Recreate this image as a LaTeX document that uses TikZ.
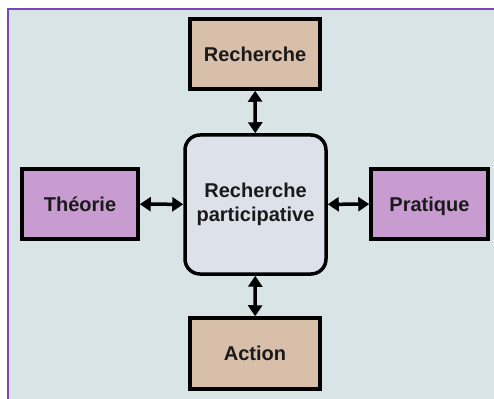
\documentclass[tikz,border=0pt]{standalone}
\usepackage{fontspec}
\setmainfont{Liberation Sans}
\usetikzlibrary{arrows.meta}
\definecolor{bgc}{HTML}{D8E4E6}
\definecolor{framec}{HTML}{7A45B5}
\definecolor{tanc}{HTML}{D8BFA9}
\definecolor{purc}{HTML}{C89CD0}
\definecolor{cenc}{HTML}{DCE1EA}
\definecolor{txtc}{HTML}{1A1A1A}
\tikzset{
  box/.style={draw=black, line width=3.5pt, inner sep=0pt, font=\fontsize{20}{24}\selectfont\bfseries, text=txtc, align=center},
  single/.style={text height=14.4pt, text depth=0pt},
  link/.style={line width=3.5pt, {Triangle[length=11pt,width=14pt]}-{Triangle[length=11pt,width=14pt]}}
}
\begin{document}
\begin{tikzpicture}[x=1pt,y=-1pt]
\useasboundingbox (0,0) rectangle (494,398);
\fill[white] (0,0) rectangle (494,398);
\fill[bgc] (8,9) rectangle (500,404);
\draw[framec, line width=2.2pt] (8,404) -- (8,9) -- (500,9);
\node[box, single, fill=tanc, minimum width=130pt, minimum height=70pt] (rech) at (255,54) {Recherche};
\node[box, fill=cenc, rounded corners=15pt, minimum width=141pt, minimum height=139pt] (cent) at (255.5,204.5) {Recherche\\participative};
\node[box, single, fill=purc, minimum width=116pt, minimum height=70pt] (theo) at (80,204) {Théorie};
\node[box, single, fill=purc, minimum width=117pt, minimum height=70pt] (prat) at (429.5,204) {Pratique};
\node[box, single, fill=tanc, minimum width=130pt, minimum height=71pt] (act) at (255,353.5) {Action};
\draw[link] (rech) -- (cent);
\draw[link] (cent) -- (act);
\draw[link] (theo) -- (cent);
\draw[link] (cent) -- (prat);
\end{tikzpicture}
\end{document}
